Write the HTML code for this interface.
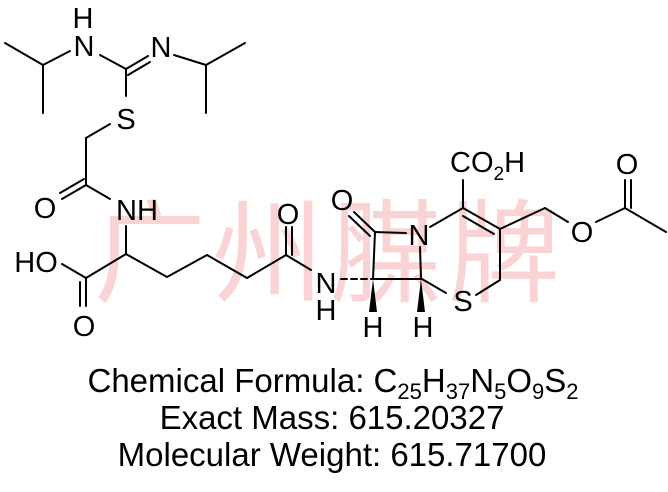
<!DOCTYPE html>
<html><head><meta charset="utf-8"><style>
html,body{margin:0;padding:0;background:#fff;}
svg{display:block}
text{font-family:"Liberation Sans",Arial,sans-serif;fill:#000}
</style></head><body>
<svg width="668" height="492" viewBox="0 0 668 492" xmlns="http://www.w3.org/2000/svg">
<text x="330" y="293" text-anchor="middle" font-size="112" style="font-family:'Noto Sans CJK SC',sans-serif;fill:#fad4d4" letter-spacing="6">广州腜牌</text>
<g stroke="#000" stroke-width="2" fill="none" stroke-linecap="round">
<line x1="5" y1="43" x2="43" y2="65"/><line x1="43" y1="65" x2="43" y2="113"/><line x1="43" y1="65" x2="70" y2="51"/>
<line x1="100" y1="55" x2="126" y2="69"/>
<line x1="126" y1="69" x2="148" y2="56"/><line x1="128" y1="75" x2="150" y2="62"/>
<line x1="174" y1="55" x2="206" y2="65"/><line x1="206" y1="65" x2="245" y2="43"/><line x1="206" y1="65" x2="206" y2="113"/>
<line x1="126" y1="69" x2="126" y2="96"/>
<line x1="110" y1="124" x2="86" y2="138"/><line x1="86" y1="138" x2="86" y2="185"/>
<line x1="86" y1="185" x2="62" y2="199"/><line x1="84" y1="179" x2="60" y2="193"/>
<line x1="86" y1="185" x2="110" y2="199"/>
<line x1="126" y1="226" x2="126" y2="254"/>
<line x1="126" y1="254" x2="86" y2="278"/><line x1="86" y1="278" x2="62" y2="264"/>
<line x1="86" y1="278" x2="86" y2="306"/><line x1="80" y1="282" x2="80" y2="306"/>
<line x1="126" y1="254" x2="167" y2="277"/><line x1="167" y1="277" x2="207" y2="255"/><line x1="207" y1="255" x2="247" y2="278"/><line x1="247" y1="278" x2="286" y2="255"/>
<line x1="286" y1="255" x2="286" y2="227"/><line x1="292" y1="255" x2="292" y2="227"/>
<line x1="286" y1="255" x2="311" y2="270"/>
<line x1="341" y1="279" x2="373" y2="279" stroke-dasharray="6,4"/>
<line x1="373" y1="279" x2="422" y2="279"/>
<line x1="373" y1="279" x2="375" y2="232"/>
<line x1="375" y1="232" x2="406" y2="233"/>
<line x1="420" y1="247" x2="421" y2="279"/>
<line x1="375" y1="232" x2="354" y2="212"/><line x1="370" y1="236" x2="349" y2="216"/>
<line x1="430" y1="227" x2="463" y2="208"/>
<line x1="463" y1="208" x2="463" y2="180"/>
<line x1="463" y1="208" x2="500" y2="229"/><line x1="463" y1="216" x2="494" y2="234"/>
<line x1="500" y1="229" x2="500" y2="280"/><line x1="500" y1="280" x2="476" y2="295"/>
<line x1="422" y1="279" x2="446" y2="293"/>
<line x1="500" y1="229" x2="545" y2="208"/><line x1="545" y1="208" x2="568" y2="222"/>
<line x1="596" y1="222" x2="625" y2="208"/><line x1="625" y1="208" x2="625" y2="180"/><line x1="631" y1="208" x2="631" y2="180"/>
<line x1="625" y1="208" x2="666" y2="232"/>
</g>
<polygon points="373,279 369,312 377,312" fill="#000"/>
<polygon points="421,279 417,312 425,312" fill="#000"/>
<g font-size="29">
<text x="83" y="28" text-anchor="middle">H</text>
<text x="84" y="56" text-anchor="middle">N</text>
<text x="161" y="57" text-anchor="middle">N</text>
<text x="126" y="129" text-anchor="middle">S</text>
<text x="45" y="218" text-anchor="middle">O</text>
<text x="137" y="220" text-anchor="middle">NH</text>
<text x="36" y="272" text-anchor="middle">HO</text>
<text x="84" y="336" text-anchor="middle">O</text>
<text x="288" y="224" text-anchor="middle">O</text>
<text x="326" y="293" text-anchor="middle">N</text>
<text x="326" y="320" text-anchor="middle">H</text>
<text x="342" y="210" text-anchor="middle">O</text>
<text x="419" y="245" text-anchor="middle">N</text>
<text x="373" y="337" text-anchor="middle">H</text>
<text x="423" y="337" text-anchor="middle">H</text>
<text x="463" y="311" text-anchor="middle">S</text>
<text x="450" y="172">CO<tspan font-size="19" dy="8">2</tspan><tspan dy="-8">H</tspan></text>
<text x="582" y="242" text-anchor="middle">O</text>
<text x="627" y="174" text-anchor="middle">O</text>
</g>
<g font-size="33" text-anchor="middle">
<text x="333" y="392">Chemical Formula: C<tspan font-size="22" dy="7">25</tspan><tspan dy="-7">H</tspan><tspan font-size="22" dy="7">37</tspan><tspan dy="-7">N</tspan><tspan font-size="22" dy="7">5</tspan><tspan dy="-7">O</tspan><tspan font-size="22" dy="7">9</tspan><tspan dy="-7">S</tspan><tspan font-size="22" dy="7">2</tspan></text>
<text x="332" y="429">Exact Mass: 615.20327</text>
<text x="332" y="466">Molecular Weight: 615.71700</text>
</g>
</svg>
</body></html>
